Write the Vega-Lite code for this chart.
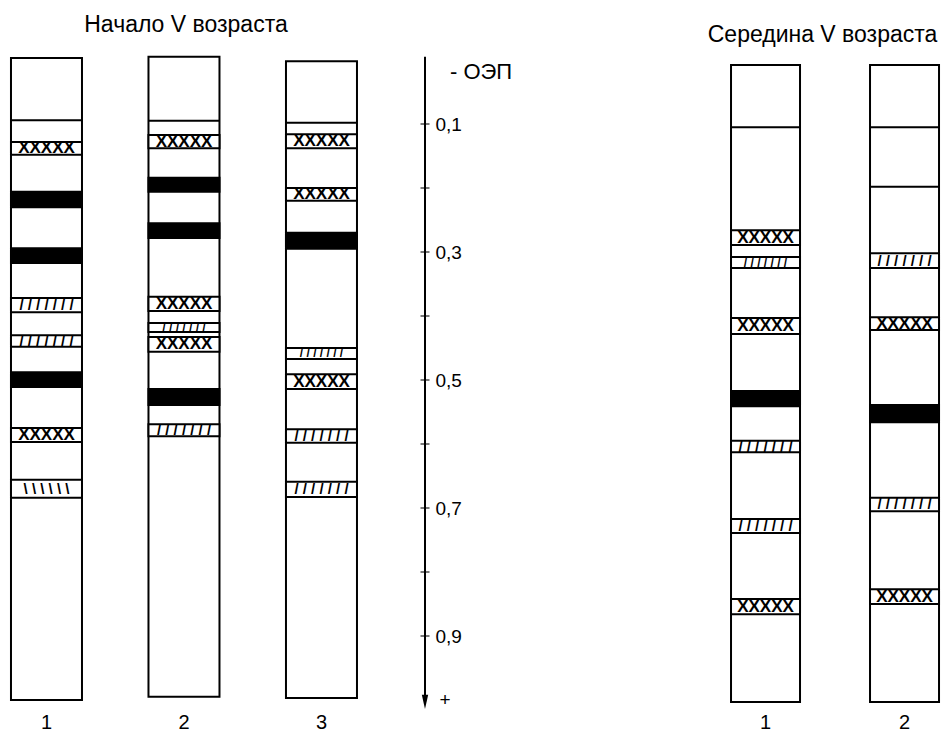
{
  "$schema": "https://vega.github.io/schema/vega-lite/v6.json",
  "padding": 0,
  "background": "white",
  "config": {"view": {"stroke": null}, "font": "Liberation Sans"},
  "datasets": {
    "left": [
      {"lane": "1", "type": "frame", "y": -0.003, "y2": 1.0},
      {"lane": "2", "type": "frame", "y": -0.005, "y2": 0.995},
      {"lane": "3", "type": "frame", "y": 0.002, "y2": 0.997},
      {"lane": "1", "type": "line", "y": 0.094, "y2": 0.094},
      {"lane": "1", "type": "cross", "y": 0.128, "y2": 0.148},
      {"lane": "1", "type": "black", "y": 0.206, "y2": 0.23},
      {"lane": "1", "type": "black", "y": 0.294, "y2": 0.317},
      {"lane": "1", "type": "hatch", "y": 0.372, "y2": 0.394},
      {"lane": "1", "type": "hatch", "y": 0.43, "y2": 0.448},
      {"lane": "1", "type": "black", "y": 0.488, "y2": 0.511},
      {"lane": "1", "type": "cross", "y": 0.575, "y2": 0.597},
      {"lane": "1", "type": "backhatch", "y": 0.656, "y2": 0.684},
      {"lane": "2", "type": "line", "y": 0.095, "y2": 0.095},
      {"lane": "2", "type": "cross", "y": 0.117, "y2": 0.138},
      {"lane": "2", "type": "black", "y": 0.184, "y2": 0.206},
      {"lane": "2", "type": "black", "y": 0.255, "y2": 0.278},
      {"lane": "2", "type": "cross", "y": 0.37, "y2": 0.392},
      {"lane": "2", "type": "hatch", "y": 0.411, "y2": 0.425},
      {"lane": "2", "type": "cross", "y": 0.433, "y2": 0.456},
      {"lane": "2", "type": "black", "y": 0.514, "y2": 0.539},
      {"lane": "2", "type": "hatch", "y": 0.569, "y2": 0.588},
      {"lane": "3", "type": "line", "y": 0.098, "y2": 0.098},
      {"lane": "3", "type": "cross", "y": 0.116, "y2": 0.138},
      {"lane": "3", "type": "cross", "y": 0.2, "y2": 0.22},
      {"lane": "3", "type": "black", "y": 0.27, "y2": 0.295},
      {"lane": "3", "type": "hatch", "y": 0.45, "y2": 0.467},
      {"lane": "3", "type": "cross", "y": 0.491, "y2": 0.514},
      {"lane": "3", "type": "hatch", "y": 0.577, "y2": 0.598},
      {"lane": "3", "type": "hatch", "y": 0.659, "y2": 0.683}
    ],
    "right": [
      {"lane": "1", "type": "frame", "y": 0.008, "y2": 1.003},
      {"lane": "2", "type": "frame", "y": 0.008, "y2": 1.003},
      {"lane": "1", "type": "line", "y": 0.105, "y2": 0.105},
      {"lane": "1", "type": "cross", "y": 0.266, "y2": 0.289},
      {"lane": "1", "type": "hatch", "y": 0.308, "y2": 0.325},
      {"lane": "1", "type": "cross", "y": 0.403, "y2": 0.428},
      {"lane": "1", "type": "black", "y": 0.517, "y2": 0.541},
      {"lane": "1", "type": "hatch", "y": 0.595, "y2": 0.613},
      {"lane": "1", "type": "hatch", "y": 0.717, "y2": 0.739},
      {"lane": "1", "type": "cross", "y": 0.842, "y2": 0.866},
      {"lane": "2", "type": "line", "y": 0.105, "y2": 0.105},
      {"lane": "2", "type": "line", "y": 0.198, "y2": 0.198},
      {"lane": "2", "type": "hatch", "y": 0.302, "y2": 0.325},
      {"lane": "2", "type": "cross", "y": 0.402, "y2": 0.422},
      {"lane": "2", "type": "black", "y": 0.539, "y2": 0.566},
      {"lane": "2", "type": "hatch", "y": 0.684, "y2": 0.705},
      {"lane": "2", "type": "cross", "y": 0.827, "y2": 0.85}
    ],
    "ticks": [
      {"v": 0.1}, {"v": 0.2}, {"v": 0.3}, {"v": 0.4}, {"v": 0.5},
      {"v": 0.6}, {"v": 0.7}, {"v": 0.8}, {"v": 0.9}
    ]
  },
  "hconcat": [
    {
      "width": 425,
      "height": 712,
      "data": {"name": "left"},
      "encoding": {
        "x": {
          "field": "lane", "type": "nominal",
          "scale": {"type": "band", "paddingInner": 0.4836, "paddingOuter": 0.2873, "align": 0.139},
          "axis": {"domain": false, "ticks": false, "title": null, "labelAngle": 0, "labelFontSize": 20, "labelPadding": 0, "labelColor": "black", "labelFont": "Liberation Sans"}
        }
      },
      "layer": [
        {
          "transform": [{"filter": "datum.type === 'frame'"}],
          "mark": {"type": "rect", "fill": "white", "stroke": "black", "strokeWidth": 2},
          "encoding": {
            "y": {"field": "y", "type": "quantitative", "scale": {"domain": [-0.09375, 1.01875], "reverse": true, "nice": false, "zero": false},
              "axis": {"orient": "right", "domain": false, "ticks": false, "tickSize": 0, "grid": false, "title": null,
                "values": [0.1, 0.3, 0.5, 0.7, 0.9], "labelExpr": "replace(format(datum.value, '.1f'), '.', ',')",
                "labelPadding": 10, "labelFontSize": 19, "labelColor": "black", "labelFont": "Liberation Sans", "labelBaseline": "middle"}},
            "y2": {"field": "y2"}
          }
        },
        {
          "transform": [{"filter": "datum.type !== 'frame'"}],
          "mark": {"type": "rect", "stroke": "black", "strokeWidth": 2},
          "encoding": {
            "y": {"field": "y", "type": "quantitative"},
            "y2": {"field": "y2"},
            "fill": {"condition": {"test": "datum.type === 'black'", "value": "black"}, "value": "white"}
          }
        },
        {
          "transform": [
            {"filter": "datum.type === 'cross' || datum.type === 'hatch' || datum.type === 'backhatch'"},
            {"fold": ["y", "y2"], "as": ["k", "v"]},
            {"aggregate": [{"op": "mean", "field": "v", "as": "mid"}], "groupby": ["lane", "type", "y"]}
          ],
          "mark": {"type": "text", "baseline": "middle", "align": "center", "fontWeight": "bold", "font": "Liberation Sans"},
          "encoding": {
            "y": {"field": "mid", "type": "quantitative"},
            "text": {"condition": [
              {"test": "datum.type === 'cross'", "value": "XXXXX"},
              {"test": "datum.type === 'hatch'", "value": "/ / / / / / /"}
            ], "value": "\\ \\ \\ \\ \\ \\"},
            "size": {"condition": [
              {"test": "datum.type === 'cross'", "value": 17},
              {"test": "datum.mid - datum.y < 0.009", "value": 12}
            ], "value": 15}
          }
        },
        {
          "data": {"name": "ticks"},
          "mark": {"type": "tick", "orient": "horizontal", "color": "black", "thickness": 1.5, "size": 9},
          "encoding": {
            "x": {"value": "width"},
            "y": {"field": "v", "type": "quantitative"}
          }
        },
        {
          "data": {"values": [{}]},
          "mark": {"type": "rule", "color": "black", "strokeWidth": 2},
          "encoding": {
            "x": {"value": "width"},
            "y": {"datum": -0.005, "type": "quantitative"},
            "y2": {"datum": 1.0}
          }
        },
        {
          "data": {"values": [{}]},
          "mark": {"type": "point", "shape": "M-0.45,-1L0.45,-1L0,1Z", "filled": true, "color": "black", "opacity": 1, "size": 200},
          "encoding": {
            "x": {"value": "width"},
            "y": {"datum": 1.003, "type": "quantitative"}
          }
        },
        {
          "data": {"values": [{}]},
          "mark": {"type": "text", "text": "+", "align": "center", "baseline": "middle", "fontSize": 19, "dx": 20, "color": "black"},
          "encoding": {
            "x": {"value": "width"},
            "y": {"datum": 1.0, "type": "quantitative"}
          }
        },
        {
          "data": {"values": [{}]},
          "mark": {"type": "text", "text": "- ОЭП", "align": "left", "baseline": "middle", "fontSize": 22, "dx": 25, "color": "black"},
          "encoding": {
            "x": {"value": "width"},
            "y": {"datum": 0.019, "type": "quantitative"}
          }
        },
        {
          "data": {"values": [{}]},
          "mark": {"type": "text", "text": "Начало V возраста", "align": "center", "baseline": "middle", "fontSize": 23, "dx": 2, "color": "black"},
          "encoding": {
            "x": {"datum": "2"},
            "y": {"datum": -0.0547, "type": "quantitative"}
          }
        }
      ]
    },
    {
      "width": 241,
      "height": 712,
      "data": {"name": "right"},
      "encoding": {
        "x": {
          "field": "lane", "type": "nominal",
          "scale": {"type": "band", "paddingInner": 0.5036, "paddingOuter": 0.1187, "align": 0.94},
          "axis": {"domain": false, "ticks": false, "title": null, "labelAngle": 0, "labelFontSize": 20, "labelPadding": 0, "labelColor": "black", "labelFont": "Liberation Sans"}
        }
      },
      "layer": [
        {
          "transform": [{"filter": "datum.type === 'frame'"}],
          "mark": {"type": "rect", "fill": "white", "stroke": "black", "strokeWidth": 2},
          "encoding": {
            "y": {"field": "y", "type": "quantitative", "scale": {"domain": [-0.09375, 1.01875], "reverse": true, "nice": false, "zero": false}, "axis": null},
            "y2": {"field": "y2"}
          }
        },
        {
          "transform": [{"filter": "datum.type !== 'frame'"}],
          "mark": {"type": "rect", "stroke": "black", "strokeWidth": 2},
          "encoding": {
            "y": {"field": "y", "type": "quantitative"},
            "y2": {"field": "y2"},
            "fill": {"condition": {"test": "datum.type === 'black'", "value": "black"}, "value": "white"}
          }
        },
        {
          "transform": [
            {"filter": "datum.type === 'cross' || datum.type === 'hatch' || datum.type === 'backhatch'"},
            {"fold": ["y", "y2"], "as": ["k", "v"]},
            {"aggregate": [{"op": "mean", "field": "v", "as": "mid"}], "groupby": ["lane", "type", "y"]}
          ],
          "mark": {"type": "text", "baseline": "middle", "align": "center", "fontWeight": "bold", "font": "Liberation Sans"},
          "encoding": {
            "y": {"field": "mid", "type": "quantitative"},
            "text": {"condition": [
              {"test": "datum.type === 'cross'", "value": "XXXXX"},
              {"test": "datum.type === 'hatch'", "value": "/ / / / / / /"}
            ], "value": "\\ \\ \\ \\ \\ \\"},
            "size": {"condition": [
              {"test": "datum.type === 'cross'", "value": 17},
              {"test": "datum.mid - datum.y < 0.009", "value": 12}
            ], "value": 15}
          }
        },
        {
          "data": {"values": [{}]},
          "mark": {"type": "text", "text": "Середина V возраста", "align": "center", "baseline": "middle", "fontSize": 23, "dx": 57, "color": "black"},
          "encoding": {
            "x": {"datum": "1"},
            "y": {"datum": -0.039, "type": "quantitative"}
          }
        }
      ]
    }
  ],
  "spacing": 275,
  "bounds": "flush"
}
